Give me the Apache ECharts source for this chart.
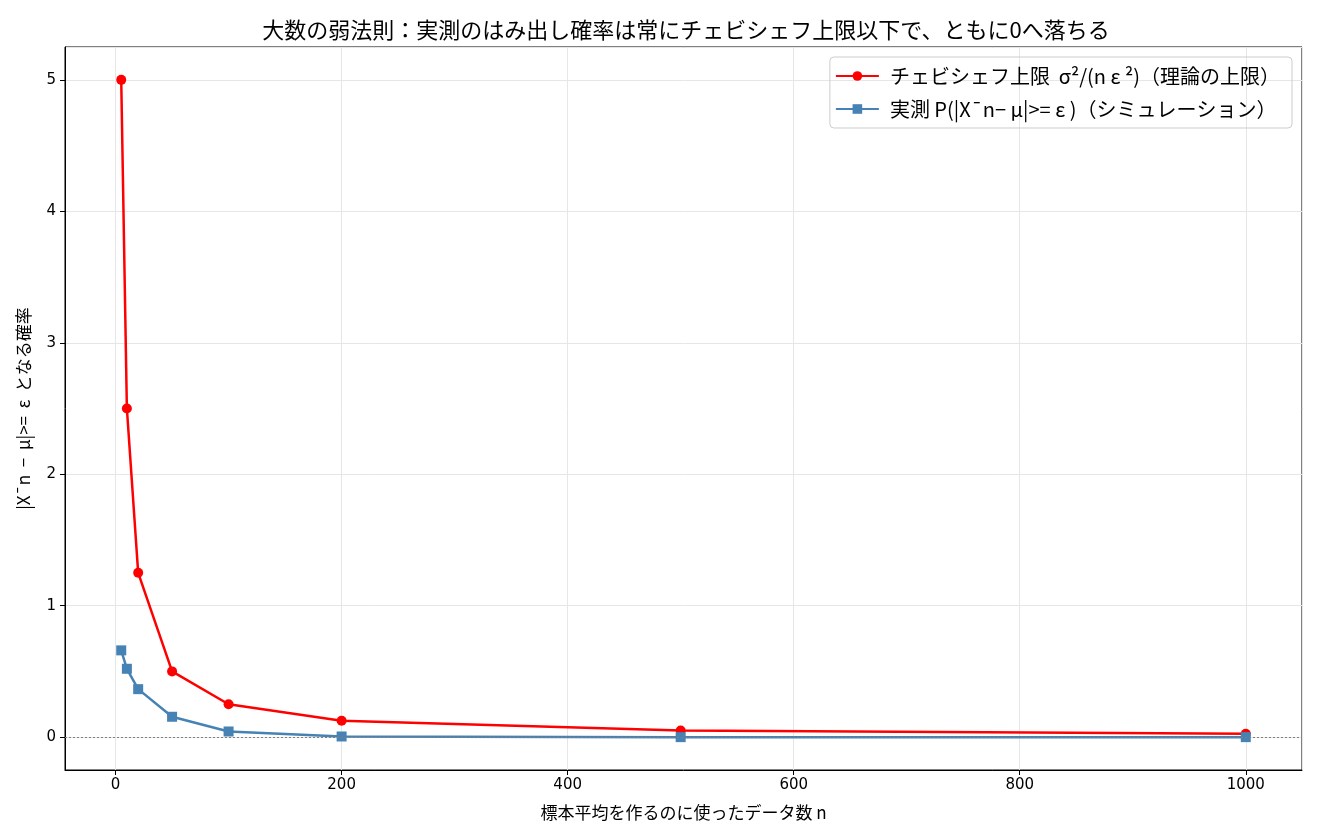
<!DOCTYPE html>
<html><head><meta charset="utf-8">
<script src="https://cdn.jsdelivr.net/npm/echarts@6/dist/echarts.min.js"></script>
<style>html,body{margin:0;padding:0;background:#fff}#c{width:1320px;height:840px}</style>
</head><body><div id="c"></div>
<script>
const nValues = [5, 10, 20, 50, 100, 200, 500, 1000];
const chebyshevBound = [5.0, 2.5, 1.25, 0.5, 0.25, 0.125, 0.05, 0.025];
const simulatedProb = [0.66, 0.52, 0.365, 0.155, 0.043, 0.005, 0.0, 0.0];
const titleText = '大数の弱法則：実測のはみ出し確率は常にチェビシェフ上限以下で、ともに0へ落ちる';
const xName = '標本平均を作るのに使ったデータ数 n';
const yName = '|X¯n  −  μ|>=  ε  となる確率';
const seriesNames = ['チェビシェフ上限  σ²/(n ε ²)（理論の上限）', '実測 P(|X¯n− μ|>= ε )（シミュレーション）'];

const font = '"Noto Sans CJK JP", "DejaVu Sans", sans-serif';
const chart = echarts.init(document.getElementById('c'), null, {renderer: 'canvas'});
chart.setOption({
  animation: false,
  textStyle: {fontFamily: font},
  title: {text: titleText, left: 681, top: 14, textAlign: 'center',
    textStyle: {fontFamily: font, fontSize: 22, fontWeight: 'normal', color: '#000'}},
  grid: {left: 65, right: 18, top: 47, bottom: 70, show: true, borderColor: '#000', borderWidth: 1, backgroundColor: 'transparent'},
  legend: {top: 57, right: 28, orient: 'vertical', itemGap: 13, itemWidth: 43, itemHeight: 12,
    padding: [9, 12, 9, 5], borderColor: '#cccccc', borderWidth: 1, borderRadius: 4,
    textStyle: {fontFamily: font, fontSize: 20, color: '#000', padding: [0, 0, 0, 6]},
    data: seriesNames},
  xAxis: {type: 'value', min: -44.75, max: 1049.75, splitNumber: 5,
    name: xName, nameLocation: 'middle', nameGap: 34,
    nameTextStyle: {fontFamily: font, fontSize: 17, color: '#000'},
    axisLine: {show: true, onZero: false, lineStyle: {color: '#000'}},
    axisTick: {show: true, length: 5, lineStyle: {color: '#000'}},
    axisLabel: {showMinLabel: false, showMaxLabel: false, fontSize: 15, color: '#000', margin: 8,
      fontFamily: 'DejaVu Sans', formatter: v => String(v)},
    splitLine: {show: true, lineStyle: {color: '#e6e6e6', width: 1}}},
  yAxis: {type: 'value', min: -0.25, max: 5.25, splitNumber: 5,
    name: yName, nameLocation: 'middle', nameGap: 33, nameRotate: 90,
    nameTextStyle: {fontFamily: font, fontSize: 17, color: '#000'},
    axisLine: {show: true, onZero: false, lineStyle: {color: '#000'}},
    axisTick: {show: true, length: 5, lineStyle: {color: '#000'}},
    axisLabel: {showMinLabel: false, showMaxLabel: false, fontSize: 15, color: '#000', margin: 9,
      fontFamily: 'DejaVu Sans', formatter: v => String(v)},
    splitLine: {show: true, lineStyle: {color: '#e6e6e6', width: 1}}},
  series: [
    {name: seriesNames[0], type: 'line', data: nValues.map((n, i) => [n, chebyshevBound[i]]),
      symbol: 'circle', symbolSize: 10, z: 3,
      lineStyle: {color: '#ff0000', width: 2.5}, itemStyle: {color: '#ff0000'},
      markLine: {silent: true, symbol: 'none', label: {show: false},
        lineStyle: {color: '#808080', type: [2, 2], width: 1},
        data: [{yAxis: 0}]}},
    {name: seriesNames[1], type: 'line', data: nValues.map((n, i) => [n, simulatedProb[i]]),
      symbol: 'rect', symbolSize: 10, z: 4,
      lineStyle: {color: '#4682b4', width: 2.5}, itemStyle: {color: '#4682b4'}}
  ]
});
</script></body></html>
